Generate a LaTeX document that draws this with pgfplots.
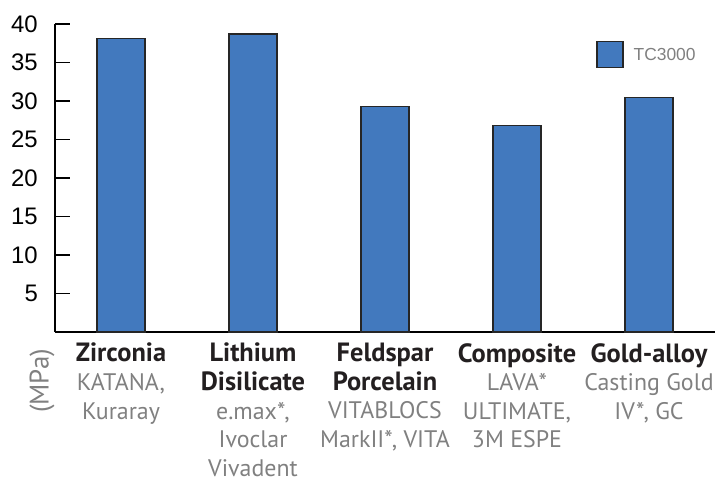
\documentclass[border=0pt]{standalone}
\usepackage{pgfplots}
\pgfplotsset{compat=1.18}
\usepackage{fontspec}
\setmainfont{PT Sans}
\newfontfamily\arialfont{Liberation Sans}
\definecolor{barblue}{RGB}{66,121,190}
\definecolor{labgray}{RGB}{128,128,128}
\definecolor{labblack}{RGB}{35,31,32}
\newcommand\g[1]{\textcolor{labgray}{#1}}
\newcommand\bb[1]{{\fontsize{26.5}{29}\selectfont\bfseries #1}}
\begin{document}
\begin{tikzpicture}
\begin{axis}[
  at={(0,0)}, anchor=south west,
  width=660bp, height=308bp, scale only axis,
  xmin=-0.5, xmax=4.5, ymin=0, ymax=40,
  clip=false,
  axis x line=bottom, axis y line=left,
  axis line style={line width=1.8bp, black, -},
  ytick={5,10,...,40},
  tick align=inside,
  major tick length=15bp,
  ytick style={draw=black, line width=1.8bp},
  xtick style={draw opacity=0},
  xtick={0,1,2,3,4},
  /pgf/number format/assume math mode=true,
  yticklabel style={font=\arialfont\fontsize{24}{24}\selectfont, inner sep=0pt, xshift=-17bp, text=black},
  xticklabels={
    {\bb{Zirconia}\\\g{KATANA,}\\\g{Kuraray}},
    {\bb{Lithium}\\\bb{Disilicate}\\\g{e.max*,}\\\g{Ivoclar}\\\g{Vivadent}},
    {\bb{Feldspar}\\\bb{Porcelain}\\\g{VITABLOCS}\\\g{MarkII*, VITA}},
    {\bb{Composite}\\\g{LAVA*}\\\g{ULTIMATE,}\\\g{3M ESPE}},
    {\bb{Gold-alloy}\\\g{Casting Gold}\\\g{IV*, GC}}
  },
  xticklabel style={font=\fontsize{24}{28.7}\selectfont, align=center, anchor=north, inner sep=0pt, text=labblack, yshift=-11bp},
  legend entries={TC3000},
  legend image code/.code={\draw[#1, line width=1.2bp] (0bp,-13bp) rectangle (26bp,13bp);},
  legend style={at={(rel axis cs:0.82,0.90)}, anchor=west, draw=none, fill=none, inner sep=0pt,
    font=\arialfont\fontsize{17.5}{18}\selectfont, text=labgray, legend cell align=left,
    /tikz/every odd column/.style={column sep=8bp}},
]
\addplot[ybar, bar width=0.364, fill=barblue, draw=black!85, line width=1.2bp] coordinates {(0,38.1) (1,38.7) (2,29.3) (3,26.8) (4,30.5)};
% inward tick marks on the y axis
\addplot[only marks, mark=-, mark size=7.5bp, mark options={draw=black, line width=1.8bp}, forget plot]
  coordinates {(-0.4432,5) (-0.4432,10) (-0.4432,15) (-0.4432,20) (-0.4432,25) (-0.4432,30) (-0.4432,35) (-0.4432,40)};
\node[rotate=90, font=\fontsize{27}{27}\selectfont, text=labgray] at ([xshift=-13bp, yshift=-49bp]rel axis cs:0,0) {(MPa)};
\end{axis}
\pgfresetboundingbox
\path[use as bounding box] (-55bp,-150bp) rectangle (662bp,332bp);
\end{tikzpicture}
\end{document}
